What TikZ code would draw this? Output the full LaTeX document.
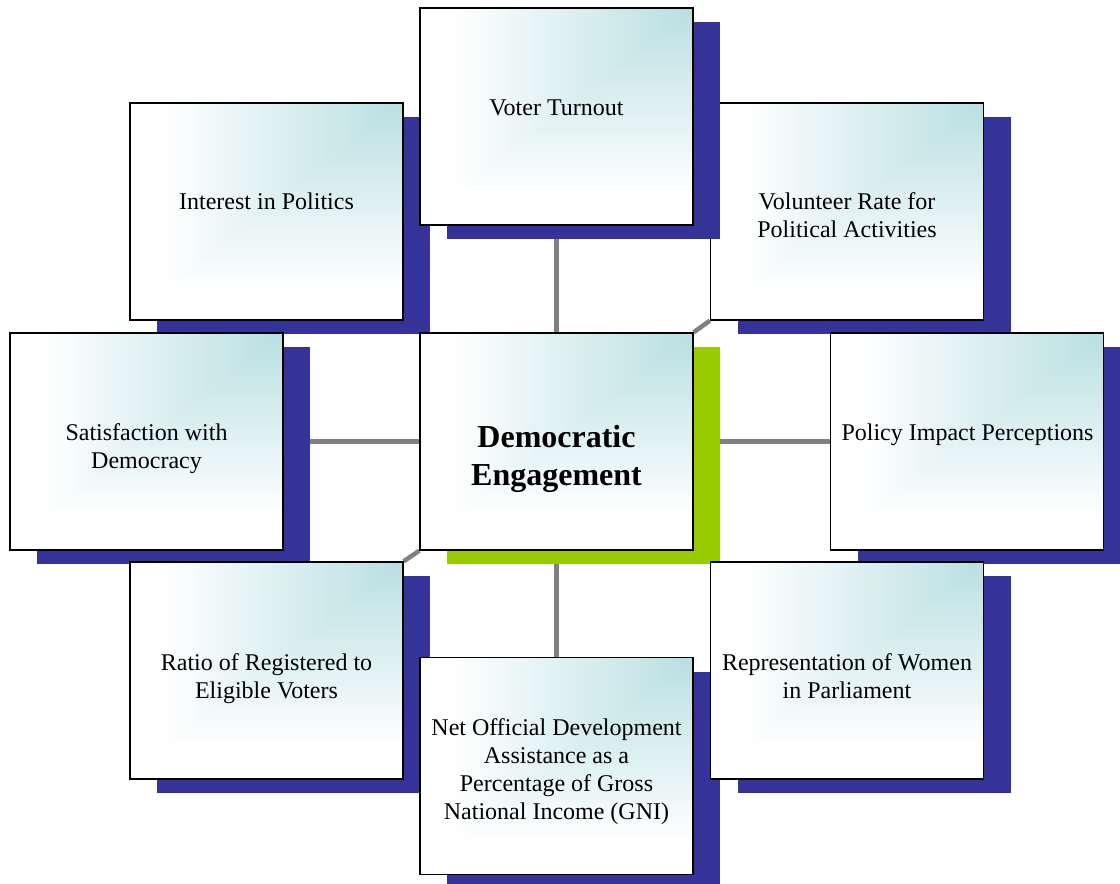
\documentclass[tikz,border=0pt]{standalone}
\usepackage{fontspec}
\setmainfont{Liberation Serif}
\usetikzlibrary{shadows,backgrounds}
\definecolor{shadowblue}{RGB}{53,51,153}
\definecolor{shadowgreen}{RGB}{153,204,0}
\definecolor{linkgray}{RGB}{128,128,128}
\pgfdeclarefunctionalshading{boxfade}{\pgfpoint{0bp}{0bp}}{\pgfpoint{100bp}{100bp}}{}{
  25 sub 50 div 0.15 sub 0.85 div
  exch 25 sub 50 div 0.12 sub 0.88 div
  2 copy gt {exch} if pop
  dup 0 lt {pop 0} if
  dup 1 gt {pop 1} if
  dup 0.275 mul 1 exch sub
  exch dup 0.125 mul 1 exch sub
  exch 0.114 mul 1 exch sub
}
\tikzset{
  basebox/.style={draw=black, line width=1.4pt, shade, shading=boxfade,
    minimum width=273pt, minimum height=217pt, inner sep=0pt},
  box/.style={basebox, general shadow={fill=shadowblue, draw=none, shadow xshift=27pt, shadow yshift=-14pt}},
  hubbox/.style={basebox, general shadow={fill=shadowgreen, draw=none, shadow xshift=27pt, shadow yshift=-14pt}},
  boxtext/.style={font=\fontsize{24}{28}\selectfont, align=center, inner sep=0pt},
  hubtext/.style={font=\bfseries\fontsize{32}{38}\selectfont, align=center, inner sep=0pt},
  connector/.style={draw=linkgray, line width=4.5pt}
}
\begin{document}
\begin{tikzpicture}[x=1pt,y=-1pt]
\useasboundingbox (0,0) rectangle (1120,884);
% boxes
\node[box] (interest) at (266.5,211.5) {};
\node[box] (volunteer) at (847,211.5) {};
\node[box] (voter) at (556.5,116.5) {};
\node[box] (satisf) at (146.5,441.5) {};
\node[hubbox] (hub) at (556.5,441.5) {};
\node[box] (policy) at (967,441.5) {};
\node[box] (ratio) at (266.5,670.5) {};
\node[box] (net) at (556.5,766) {};
\node[box] (rep) at (847,670.5) {};
% connectors behind
\begin{pgfonlayer}{background}
\fill[white] (0,0) rectangle (1120,884);
\draw[connector] (hub.north) -- (voter.south);
\draw[connector] (hub.south) -- (net.north);
\draw[connector] (hub.west) -- (satisf.east);
\draw[connector] (hub.east) -- (policy.west);
\draw[connector] (hub.north east) -- (volunteer.south west);
\draw[connector] (hub.north west) -- (interest.south east);
\draw[connector] (hub.south west) -- (ratio.north east);
\draw[connector] (hub.south east) -- (rep.north west);
\end{pgfonlayer}
% texts
\node[boxtext] (tvoter) at (556.5,107.5) {Voter Turnout};
\node[boxtext] (tinterest) at (266.5,201) {Interest in Politics};
\node[boxtext] (tvolunteer) at (847,215) {Volunteer Rate for\\Political Activities};
\node[boxtext] (tsatisf) at (146.5,448.5) {Satisfaction with\\Democracy};
\node[hubtext] (thub) at (556.5,459) {Democratic\\Engagement};
\node[boxtext] (tpolicy) at (967.5,434.5) {Policy Impact Perceptions};
\node[boxtext] (tratio) at (266.5,678.5) {Ratio of Registered to\\Eligible Voters};
\node[boxtext] (trep) at (847,676) {Representation of Women\\in Parliament};
\node[boxtext] (tnet) at (556.5,772) {Net Official Development\\Assistance as a\\Percentage of Gross\\National Income (GNI)};
\end{tikzpicture}
\end{document}
